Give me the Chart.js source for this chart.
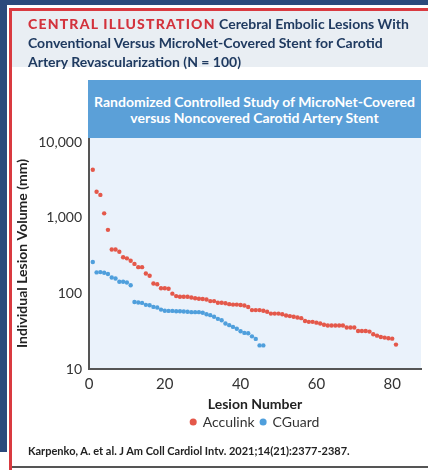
<!DOCTYPE html>
<html>
<head>
<meta charset="utf-8">
<script src="https://cdn.jsdelivr.net/npm/chart.js@4.4.0/dist/chart.umd.min.js"></script>
<style>
  html, body { margin: 0; padding: 0; background: #fff; }
  body { width: 428px; height: 470px; position: relative; overflow: hidden; font-family: Lato, sans-serif; }
  .frame-top { position: absolute; left: 0; top: 0; width: 428px; height: 5px; background: #2c4a7c; }
  .frame-left { position: absolute; left: 0; top: 0; width: 7px; height: 452px; background: #2c4a7c; }
  .red-top { position: absolute; left: 9px; top: 8px; width: 419px; height: 3px; background: #d93a40; }
  .red-left { position: absolute; left: 9px; top: 8px; width: 3px; height: 462px; background: #d93a40; }
  .bottom-line { position: absolute; left: 12px; top: 466px; width: 416px; height: 2px; background: #555; }
  .header { position: absolute; left: 12px; top: 11px; width: 416px; height: 56px; background: #e9eef3; }
  .header-text { position: absolute; left: 28px; top: 14px; font-size: 14px; line-height: 19px; font-weight: 700; color: #1f3a60; }
  .header-text .tag { color: #d3323c; font-weight: 900; letter-spacing: 1.2px; }
  .banner { position: absolute; left: 88px; top: 80px; width: 333px; height: 58px; background: #5ba0d8;
            color: #fff; font-weight: 700; font-size: 14px; line-height: 16px; text-align: center; box-sizing: border-box; padding-top: 14px; }
  .cite { position: absolute; left: 28px; top: 444px; font-size: 11px; font-weight: 700; color: #222; }
  canvas { position: absolute; left: 0; top: 0; }
</style>
</head>
<body>
<div class="frame-top"></div>
<div class="frame-left"></div>
<div class="red-top"></div>
<div class="red-left"></div>
<div class="bottom-line"></div>
<div class="header"></div>
<canvas id="lesion-chart" width="428" height="470"></canvas>
<div class="header-text"><span class="tag">CENTRAL ILLUSTRATION</span> Cerebral Embolic Lesions With<br>Conventional Versus MicroNet-Covered Stent for Carotid<br>Artery Revascularization (N = 100)</div>
<div class="banner">Randomized Controlled Study of MicroNet-Covered<br>versus Noncovered Carotid Artery Stent</div>
<div class="cite">Karpenko, A. et al. J Am Coll Cardiol Intv. 2021;14(21):2377-2387.</div>
<script>
// lesion volumes, sorted per lesion number (1..n)
var acculinkVolume = [4300, 2200, 2000, 1140, 690, 380, 380, 355, 300, 290,
    270, 245, 222, 222, 183, 171, 135, 132, 117, 117,
    115, 99, 92, 90, 90, 90, 88, 86, 85, 84,
    83, 79, 79, 75, 75, 74, 72, 71, 71, 70,
    69, 66, 60, 60, 60, 59, 57, 54, 54, 54,
    53, 51, 50, 49, 48, 47, 43, 42, 42, 41,
    40, 38.5, 37.5, 37.5, 37.5, 37.5, 37.5, 35.3, 35.3, 35.3,
    31.8, 31.8, 31.8, 31.2, 28.8, 27.6, 26.5, 26, 25.5, 25.2, 21];
var cguardVolume = [260, 189, 191, 187, 180, 162, 157, 142, 142, 139,
    128, 77, 75.5, 74.8, 70.4, 69.7, 66.2, 64.9, 61, 59,
    58.6, 58.6, 58, 58, 57.5, 57, 56.4, 56.4, 56.4, 55.3,
    53, 51.5, 49, 46, 44, 40, 38, 36, 34, 31.6,
    30, 29.7, 27, 25, 20.5, 20.5];
var xTickValues = [0, 20, 40, 60, 80];
var yTickValues = [10, 100, 1000, 10000];

function toPoints(values) {
    return values.map(function(v, i) { return { x: i + 1, y: v }; });
}

var plotBackground = {
    id: 'plotBackground',
    beforeDraw: function(chart) {
        var a = chart.chartArea;
        var ctx = chart.ctx;
        ctx.save();
        ctx.fillStyle = '#eaf2fb';
        ctx.fillRect(a.left, a.top, a.right - a.left, a.bottom - a.top);
        ctx.restore();
    }
};

new Chart(document.getElementById('lesion-chart'), {
    type: 'scatter',
    data: {
        datasets: [{
            label: 'Acculink',
            data: toPoints(acculinkVolume),
            backgroundColor: '#e4584a',
            borderWidth: 0,
            pointRadius: 2.2
        }, {
            label: 'CGuard',
            data: toPoints(cguardVolume),
            backgroundColor: '#4f9fdc',
            borderWidth: 0,
            pointRadius: 2.2
        }]
    },
    options: {
        responsive: false,
        animation: false,
        layout: { padding: { left: 10, right: 7, top: 138, bottom: 31 } },
        plugins: {
            legend: {
                position: 'bottom',
                fullSize: false,
                labels: {
                    usePointStyle: true,
                    pointStyle: 'circle',
                    boxWidth: 5,
                    boxHeight: 5,
                    padding: 6,
                    color: '#333',
                    font: { family: 'Lato', size: 14 }
                }
            },
            tooltip: { enabled: false }
        },
        scales: {
            x: {
                type: 'linear',
                min: 0,
                max: 87.6,
                afterBuildTicks: function(s) { s.ticks = xTickValues.map(function(v) { return { value: v }; }); },
                afterFit: function(s) { s.height = 40; },
                grid: { display: false, drawTicks: false },
                border: { display: true, color: '#555', width: 2 },
                ticks: { color: '#333', padding: 6, font: { family: 'Lato', size: 15 } },
                title: { display: true, text: 'Lesion Number', color: '#222', padding: { top: 0, bottom: -4 },
                         font: { family: 'Lato', size: 14, weight: 'bold' } }
            },
            y: {
                type: 'logarithmic',
                min: 10,
                max: 11300,
                afterBuildTicks: function(s) { s.ticks = yTickValues.map(function(v) { return { value: v }; }); },
                afterFit: function(s) { s.width = 79; },
                grid: { display: false, drawTicks: false },
                border: { display: true, color: '#555', width: 2 },
                ticks: {
                    color: '#333', padding: 7, font: { family: 'Lato', size: 14 },
                    callback: function(v) { return v.toLocaleString('en-US'); }
                },
                title: { display: true, text: 'Individual Lesion Volume (mm)', color: '#222', padding: { top: 4, bottom: 4 },
                         font: { family: 'Lato', size: 14, weight: 'bold' } }
            }
        }
    },
    plugins: [plotBackground]
});
</script>
</body>
</html>
